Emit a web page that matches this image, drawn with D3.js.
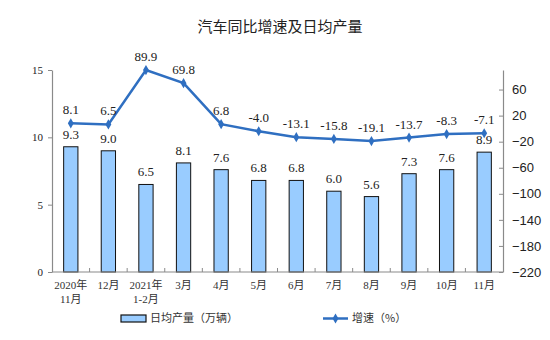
<!DOCTYPE html>
<html><head><meta charset="utf-8">
<script src="https://cdn.jsdelivr.net/npm/d3@7"></script>
<style>body{margin:0;background:#fff}</style>
</head><body><svg id="c" width="550" height="340"></svg>
<script>
const categories = [["2020年","11月"],["12月"],["2021年","1-2月"],["3月"],["4月"],["5月"],["6月"],["7月"],["8月"],["9月"],["10月"],["11月"]];
const dailyOutput = [9.3, 9.0, 6.5, 8.1, 7.6, 6.8, 6.8, 6.0, 5.6, 7.3, 7.6, 8.9];
const growth = [8.1, 6.5, 89.9, 69.8, 6.8, -4.0, -13.1, -15.8, -19.1, -13.7, -8.3, -7.1];
const leftTicks = [0, 5, 10, 15];
const rightTicks = [-220, -180, -140, -100, -60, -20, 20, 60];
const title = "汽车同比增速及日均产量";
const legendBar = "日均产量（万辆）";
const legendLine = "增速（%）";

const svg = d3.select("#c");
const L = 52, R = 503, T = 70, B = 272;
const serif = "'Liberation Serif','Times New Roman',serif";
const cjk = "'Liberation Serif','Noto Sans CJK SC',serif";
const idx = d3.range(categories.length);
const x = d3.scaleBand().domain(idx).range([L, R]).paddingInner(0.62).paddingOuter(0.31);
const xb = d3.scaleBand().domain(idx).range([L, R]);
const yL = d3.scaleLinear().domain([0, 15]).range([B, T]);
const yR = d3.scaleLinear().domain([-220, 90]).range([B, T]);
const axisColor = "#8a8a8a";

svg.append("text").attr("x", 280).attr("y", 32).attr("text-anchor", "middle")
  .attr("font-family", "'Noto Sans CJK SC',sans-serif").attr("font-size", 15).attr("fill", "#222").text(title);

// bars
svg.append("g").selectAll("rect").data(dailyOutput).join("rect")
  .attr("x", (d, i) => x(i)).attr("width", x.bandwidth())
  .attr("y", d => yL(d)).attr("height", d => yL(0) - yL(d))
  .attr("fill", "#99ccff").attr("stroke", "#111").attr("stroke-width", 1);
svg.append("g").selectAll("text").data(dailyOutput).join("text")
  .attr("x", (d, i) => xb(i) + xb.bandwidth() / 2).attr("y", d => yL(d) - 8)
  .attr("text-anchor", "middle").attr("font-family", serif).attr("font-size", 13).attr("fill", "#222")
  .text(d => d.toFixed(1));

// left axis
const gl = svg.append("g").attr("transform", `translate(${L},0)`)
  .call(d3.axisLeft(yL).tickValues(leftTicks).tickSize(4).tickSizeOuter(0).tickPadding(5));
gl.select(".domain").attr("stroke", axisColor).attr("stroke-width", 1.2);
gl.selectAll(".tick line").attr("stroke", axisColor);
gl.selectAll(".tick text").attr("font-family", serif).attr("font-size", 11).attr("fill", "#222");

// right axis
const gr = svg.append("g").attr("transform", `translate(${R},0)`)
  .call(d3.axisRight(yR).tickValues(rightTicks).tickSize(-4).tickSizeOuter(0).tickPadding(9));
gr.select(".domain").attr("stroke", axisColor).attr("stroke-width", 1.2);
gr.selectAll(".tick line").attr("stroke", axisColor);
gr.selectAll(".tick text").attr("font-family", "'Liberation Sans',Arial,sans-serif").attr("font-size", 13).attr("fill", "#222");

// bottom axis
const gb = svg.append("g").attr("transform", `translate(0,${B})`);
gb.append("line").attr("x1", L).attr("x2", R).attr("stroke", axisColor).attr("stroke-width", 1.2);
gb.selectAll("line.t").data(idx.slice(1)).join("line").attr("class", "t")
  .attr("x1", i => xb(i)).attr("x2", i => xb(i)).attr("y1", 0).attr("y2", -4).attr("stroke", axisColor);
gb.selectAll("text").data(categories).join("text")
  .attr("x", (d, i) => xb(i) + xb.bandwidth() / 2).attr("y", 17)
  .attr("text-anchor", "middle").attr("font-family", cjk).attr("font-size", 11).attr("fill", "#333")
  .each(function (d) {
    const t = d3.select(this);
    d.forEach((s, k) => t.append("tspan").attr("x", t.attr("x")).attr("dy", k ? 14 : 0).text(s));
  });

// line
const lineColor = "#2f6fc1";
const cx = i => xb(i) + xb.bandwidth() / 2;
svg.append("path").datum(growth)
  .attr("d", d3.line().x((d, i) => cx(i)).y(d => yR(d)))
  .attr("fill", "none").attr("stroke", lineColor).attr("stroke-width", 2.5);
svg.append("g").selectAll("path").data(growth).join("path")
  .attr("transform", (d, i) => `translate(${cx(i)},${yR(d)})`)
  .attr("d", d3.symbol(d3.symbolDiamond, 30)).attr("fill", lineColor);
svg.append("g").selectAll("text").data(growth).join("text")
  .attr("x", (d, i) => cx(i)).attr("y", d => yR(d) - 9)
  .attr("text-anchor", "middle").attr("font-family", serif).attr("font-size", 13).attr("fill", "#222")
  .text(d => d.toFixed(1));

// legend
const lg = svg.append("g");
lg.append("rect").attr("x", 121).attr("y", 315).attr("width", 25).attr("height", 7)
  .attr("fill", "#99ccff").attr("stroke", "#111").attr("stroke-width", 1.2);
lg.append("text").attr("x", 150).attr("y", 322).attr("font-family", "'Noto Sans CJK SC',sans-serif")
  .attr("font-size", 11).attr("fill", "#333").text(legendBar);
lg.append("line").attr("x1", 323).attr("x2", 348).attr("y1", 318.5).attr("y2", 318.5)
  .attr("stroke", lineColor).attr("stroke-width", 2.5);
lg.append("path").attr("transform", "translate(335.5,318.5)").attr("d", d3.symbol(d3.symbolDiamond, 30)).attr("fill", lineColor);
lg.append("text").attr("x", 352).attr("y", 322).attr("font-family", "'Noto Sans CJK SC',sans-serif")
  .attr("font-size", 11).attr("fill", "#333").text(legendLine);
</script></body></html>
